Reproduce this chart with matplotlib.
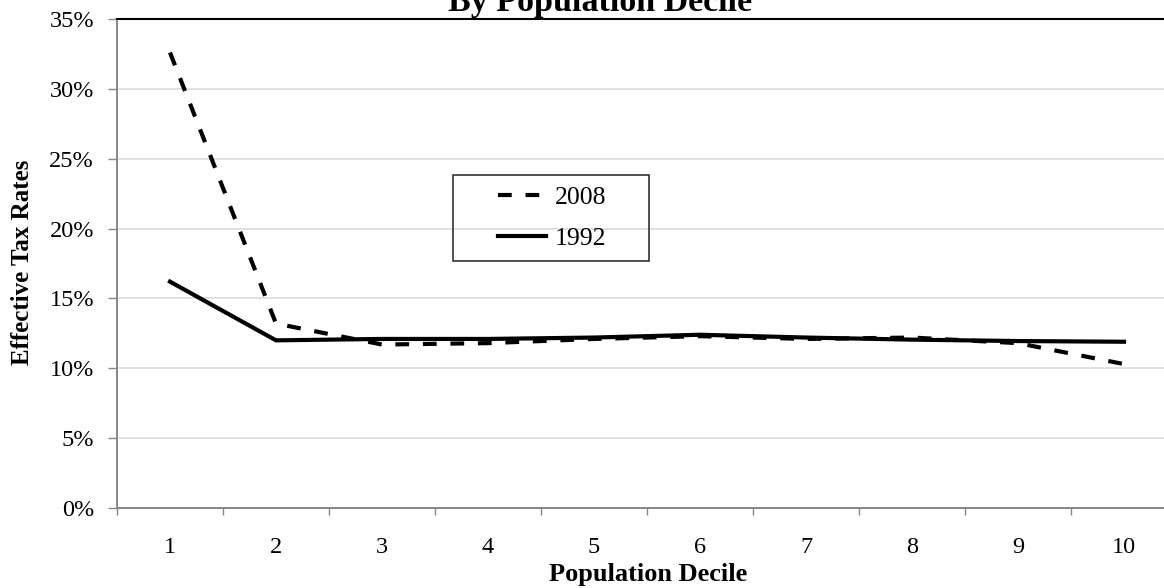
import matplotlib
matplotlib.use("Agg")
import matplotlib.pyplot as plt
from matplotlib.patches import Rectangle
from matplotlib.ticker import FuncFormatter, FixedLocator

plt.rcParams["font.family"] = ["Liberation Serif", "DejaVu Serif"]

deciles = [1, 2, 3, 4, 5, 6, 7, 8, 9, 10]
rates_2008 = [32.6, 13.2, 11.7, 11.8, 12.1, 12.3, 12.1, 12.2, 11.8, 10.3]
rates_1992 = [16.2, 12.0, 12.1, 12.1, 12.2, 12.4, 12.2, 12.05, 11.95, 11.9]
y_ticks = [0, 5, 10, 15, 20, 25, 30, 35]

W, H = 1164, 588
fig = plt.figure(figsize=(W / 100, H / 100), dpi=100)
ax = fig.add_axes([117 / W, (H - 508) / H, 1060 / W, 489 / H])

grey = "#868686"

# gridlines first so the lines sit on top
ax.set_axisbelow(True)
ax.yaxis.grid(True, color="#d9d9d9", linewidth=1.1)

ax.plot(deciles, rates_2008, color="black", linewidth=3.0,
        linestyle=(0, (3.3, 3.3)), label="2008", dash_capstyle="butt")
ax.plot(deciles, rates_1992, color="black", linewidth=3.0, label="1992")

ax.set_xlim(0.5, 10.5)
ax.set_ylim(0, 35)
ax.set_yticks(y_ticks)
ax.yaxis.set_major_formatter(FuncFormatter(lambda v, p: f"{v:.0f}%"))
ax.set_xticks(deciles)
ax.xaxis.set_minor_locator(FixedLocator([d - 0.5 for d in deciles] + [10.5]))

ax.tick_params(axis="y", direction="out", length=6.5, width=1, color=grey,
               pad=10, labelsize=17.5)
ax.tick_params(axis="x", which="major", length=0, pad=21, labelsize=17.5)
ax.tick_params(axis="x", which="minor", direction="out", length=5, width=1,
               color=grey)

for side in ["left", "bottom"]:
    ax.spines[side].set_color(grey)
    ax.spines[side].set_linewidth(1.4)
ax.spines["right"].set_visible(False)
ax.spines["top"].set_color("black")
ax.spines["top"].set_linewidth(1.5)

# axis titles
fig.text(648 / W, (H - 581) / H, "Population Decile", fontsize=19,
         fontweight="bold", ha="center", va="baseline")
fig.text(23 / W, (H - 262) / H, "Effective Tax Rates", rotation=90,
         fontsize=18, fontweight="bold", ha="center", va="center")

# title, mostly cut off by the top edge
fig.text(600 / W, (H - 11) / H, "By Population Decile", fontsize=24.5,
         fontweight="bold", ha="center", va="baseline")

# legend
leg = ax.legend(loc="center", bbox_to_anchor=(552 / W, (H - 218) / H),
                bbox_transform=fig.transFigure, frameon=False, fontsize=18.5,
                handlelength=1.85, handletextpad=0.35, labelspacing=0.72)
fig.patches.append(Rectangle((453 / W, (H - 261) / H), 196 / W, 86 / H,
                             transform=fig.transFigure, fill=False,
                             edgecolor="#222222", linewidth=1.1))

fig.savefig("out.png", dpi=100)
